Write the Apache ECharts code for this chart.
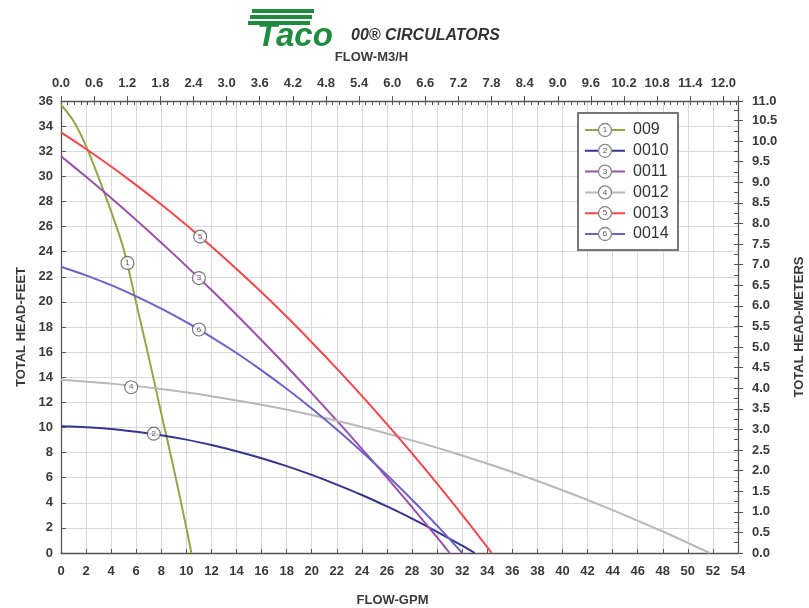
<!DOCTYPE html>
<html><head><meta charset="utf-8">
<script src="https://cdn.jsdelivr.net/npm/echarts@6/dist/echarts.min.js"></script>
<style>html,body{margin:0;padding:0;background:#fff}#c{width:809px;height:608px}</style>
</head><body><div id="c"></div>
<script>
// ---- data ----
const pumpNames  = ['009', '0010', '0011', '0012', '0013', '0014'];
const pumpColors = ['#97a24a', '#33368f', '#9b4fab', '#b8b8b8', '#f0474b', '#7061c6'];

const flow009  = [0, 1, 2, 3, 4, 5, 6, 7, 8, 9, 10, 10.4];
const head009  = [35.7, 34.4, 32.4, 29.9, 27.2, 24.2, 19.9, 15.6, 11.1, 6.7, 2.0, 0];

const flow0010 = [0, 2, 4, 6, 8, 10, 12, 14, 16, 18, 20, 22, 24, 26, 28, 30, 32, 33];
const head0010 = [10.1, 10.02, 9.88, 9.66, 9.38, 9.03, 8.6, 8.11, 7.55, 6.92, 6.22, 5.45, 4.62, 3.71, 2.74, 1.69, 0.58, 0];

const flow0011 = [0, 2, 4, 6, 8, 10, 12, 14, 16, 18, 20, 22, 24, 26, 28, 30, 31];
const head0011 = [31.6, 29.96, 28.27, 26.52, 24.71, 22.85, 20.94, 18.97, 16.95, 14.87, 12.73, 10.54, 8.3, 6.0, 3.65, 1.24, 0];

const flow0012 = [0, 4, 8, 12, 16, 20, 24, 28, 32, 36, 40, 44, 48, 50, 51.75];
const head0012 = [13.8, 13.49, 13.06, 12.49, 11.8, 10.99, 10.04, 8.97, 7.77, 6.45, 5.0, 3.42, 1.71, 0.81, 0];

const flow0013 = [0, 2, 4, 6, 8, 10, 12, 14, 16, 18, 20, 22, 24, 26, 28, 30, 32, 34, 34.35];
const head0013 = [33.5, 32.18, 30.78, 29.3, 27.75, 26.12, 24.41, 22.62, 20.76, 18.81, 16.79, 14.69, 12.52, 10.26, 7.93, 5.52, 3.04, 0.47, 0];

const flow0014 = [0, 2, 4, 6, 8, 10, 12, 14, 16, 18, 20, 22, 24, 26, 28, 30, 32];
const head0014 = [22.8, 22.11, 21.33, 20.44, 19.46, 18.38, 17.2, 15.93, 14.55, 13.08, 11.51, 9.84, 8.07, 6.21, 4.24, 2.18, 0];

const markerFlow = [5.3, 7.4, 11.0, 5.6, 11.1, 11.0];
const markerHead = [23.1, 9.5, 21.9, 13.2, 25.2, 17.8];

const gpmMax = 54, gpmStep = 2;
const ftMax = 36, ftStep = 2;
const m3hStep = 0.6, m3hMinorStep = 0.12, meterStep = 0.5, meterMinorStep = 0.25;
const GPM_PER_M3H = 4.40287, FT_PER_M = 3.28084;

// ---- chart ----
const flows = [flow009, flow0010, flow0011, flow0012, flow0013, flow0014];
const heads = [head009, head0010, head0011, head0012, head0013, head0014];

const FONT = 'Liberation Sans, Arial, sans-serif';
const axisCol = '#555';
const labelStyle = () => ({ color: '#3a3a3a', fontSize: 13, fontWeight: 'bold', fontFamily: FONT });
const nameStyle = () => ({ color: '#3a3a3a', fontSize: 13, fontWeight: 'bold', fontFamily: FONT });

const series = pumpNames.map((n, i) => ({
  name: n, type: 'line', xAxisIndex: 0, yAxisIndex: 0,
  data: flows[i].map((f, k) => [f, heads[i][k]]),
  showSymbol: false, smooth: 0.3,
  lineStyle: { color: pumpColors[i], width: 2 },
  itemStyle: { color: pumpColors[i] },
  z: 3
}));
series.push({
  type: 'scatter', xAxisIndex: 0, yAxisIndex: 0, z: 10,
  data: markerFlow.map((f, i) => [f, markerHead[i]]),
  symbol: 'circle', symbolSize: 13,
  itemStyle: { color: '#fff', borderColor: '#555', borderWidth: 1.2 },
  label: { show: true, position: 'inside', formatter: p => String(p.dataIndex + 1), fontSize: 8, color: '#444', fontFamily: FONT },
  silent: true
});

// extra axes that only carry the secondary (minor) tick marks on top and right
function tickAxis(position, max, step, inside, len) {
  return {
    type: 'value', position: position, min: 0, max: max, interval: step,
    axisLine: { show: false, onZero: false },
    axisLabel: { show: false },
    splitLine: { show: false, lineStyle: { color: 'rgba(0,0,0,0)', width: 0 } },
    splitArea: { show: false },
    minorTick: { show: false },
    minorSplitLine: { show: false, lineStyle: { color: 'rgba(0,0,0,0)', width: 0 } },
    axisTick: { show: true, inside: inside, length: len, lineStyle: { color: axisCol, width: 1 } }
  };
}

// legend built from names/colors
const lgX = 578, lgY = 113, rowH = 20.8;
const lgEls = [{ type: 'rect', shape: { x: lgX, y: lgY, width: 100, height: 137 }, style: { fill: '#fff', stroke: '#777', lineWidth: 2 }, z: 50 }];
pumpNames.forEach((n, i) => {
  const y = lgY + 17 + i * rowH;
  lgEls.push({ type: 'line', z: 51, shape: { x1: lgX + 7, y1: y, x2: lgX + 47, y2: y }, style: { stroke: pumpColors[i], lineWidth: 2 } });
  lgEls.push({ type: 'circle', z: 52, shape: { cx: lgX + 27, cy: y, r: 6.5 }, style: { fill: '#fff', stroke: '#888', lineWidth: 1.3 } });
  lgEls.push({ type: 'text', z: 53, x: lgX + 27, y: y, style: { text: String(i + 1), align: 'center', verticalAlign: 'middle', fontSize: 8, fill: '#555', fontFamily: FONT } });
  lgEls.push({ type: 'text', z: 53, x: lgX + 55, y: y, style: { text: n, align: 'left', verticalAlign: 'middle', fontSize: 16, fill: '#333', fontFamily: FONT } });
});

// logo / title
const titleEls = [
  { type: 'rect', shape: { x: 252, y: 9, width: 62, height: 4 }, style: { fill: '#1f8b3f' } },
  { type: 'rect', shape: { x: 250, y: 15, width: 62, height: 4 }, style: { fill: '#1f8b3f' } },
  { type: 'rect', shape: { x: 248, y: 21, width: 62, height: 4 }, style: { fill: '#1f8b3f' } },
  { type: 'text', x: 257, y: 37, style: { text: 'Taco', fontSize: 33, fontWeight: 900, fontStyle: 'italic', fill: '#1f8b3f', fontFamily: FONT, verticalAlign: 'middle' } },
  { type: 'text', x: 351, y: 36, style: { text: '00® CIRCULATORS', fontSize: 16, fontWeight: 'bold', fontStyle: 'italic', fill: '#333', fontFamily: FONT, verticalAlign: 'middle' } }
];

const option = {
  backgroundColor: '#fff',
  animation: false,
  grid: { left: 61, right: 71, top: 101, bottom: 55, containLabel: false, outerBoundsMode: 'none' },
  xAxis: [
    {
      type: 'value', position: 'bottom', min: 0, max: gpmMax, interval: gpmStep,
      name: 'FLOW-GPM', nameLocation: 'middle', nameGap: 41, nameTextStyle: Object.assign({ padding: [0, 14, 0, 0] }, nameStyle()),
      axisLine: { show: true, onZero: false, lineStyle: { color: axisCol, width: 1.3 } },
      axisTick: { show: true, inside: true, length: 4, lineStyle: { color: axisCol } },
      minorTick: { show: false }, minorSplitLine: { show: false },
      axisLabel: Object.assign({ margin: 12 }, labelStyle()),
      splitLine: { show: true, lineStyle: { color: '#d8d8d8', width: 1 } }
    },
    {
      type: 'value', position: 'top', min: 0, max: gpmMax / GPM_PER_M3H, interval: m3hStep,
      name: 'FLOW-M3/H', nameLocation: 'middle', nameGap: 37, nameTextStyle: Object.assign({ padding: [0, 56, 0, 0] }, nameStyle()),
      axisLine: { show: true, onZero: false, lineStyle: { color: axisCol, width: 1.3 } },
      axisTick: { show: true, inside: false, length: 5, lineStyle: { color: axisCol } },
      minorTick: { show: false }, minorSplitLine: { show: false },
      axisLabel: Object.assign({ margin: 11, formatter: v => (v > 12.05 ? '' : v.toFixed(1)) }, labelStyle()),
      splitLine: { show: false }
    },
    tickAxis('top', gpmMax / GPM_PER_M3H, m3hMinorStep, true, 4)
  ],
  yAxis: [
    {
      type: 'value', position: 'left', min: 0, max: ftMax, interval: ftStep,
      name: 'TOTAL HEAD-FEET', nameLocation: 'middle', nameGap: 33, nameRotate: 90, nameTextStyle: nameStyle(),
      axisLine: { show: true, onZero: false, lineStyle: { color: axisCol, width: 1.3 } },
      axisTick: { show: true, inside: true, length: 5, lineStyle: { color: axisCol } },
      minorTick: { show: false }, minorSplitLine: { show: false },
      axisLabel: Object.assign({ margin: 8 }, labelStyle()),
      splitLine: { show: true, lineStyle: { color: '#d8d8d8', width: 1 } }
    },
    {
      type: 'value', position: 'right', min: 0, max: ftMax / FT_PER_M, interval: meterStep,
      name: 'TOTAL HEAD-METERS', nameLocation: 'middle', nameGap: 55, nameRotate: 90, nameTextStyle: nameStyle(),
      axisLine: { show: true, onZero: false, lineStyle: { color: axisCol, width: 1.3 } },
      axisTick: { show: true, inside: false, length: 5, lineStyle: { color: axisCol } },
      minorTick: { show: false }, minorSplitLine: { show: false },
      axisLabel: Object.assign({ margin: 14, formatter: v => v.toFixed(1) }, labelStyle()),
      splitLine: { show: false }
    },
    tickAxis('right', ftMax / FT_PER_M, meterMinorStep, true, 4)
  ],
  series: series,
  graphic: titleEls.concat(lgEls)
};

const chart = echarts.init(document.getElementById('c'), null, { renderer: 'canvas' });
chart.setOption(option);
</script>
</body></html>
